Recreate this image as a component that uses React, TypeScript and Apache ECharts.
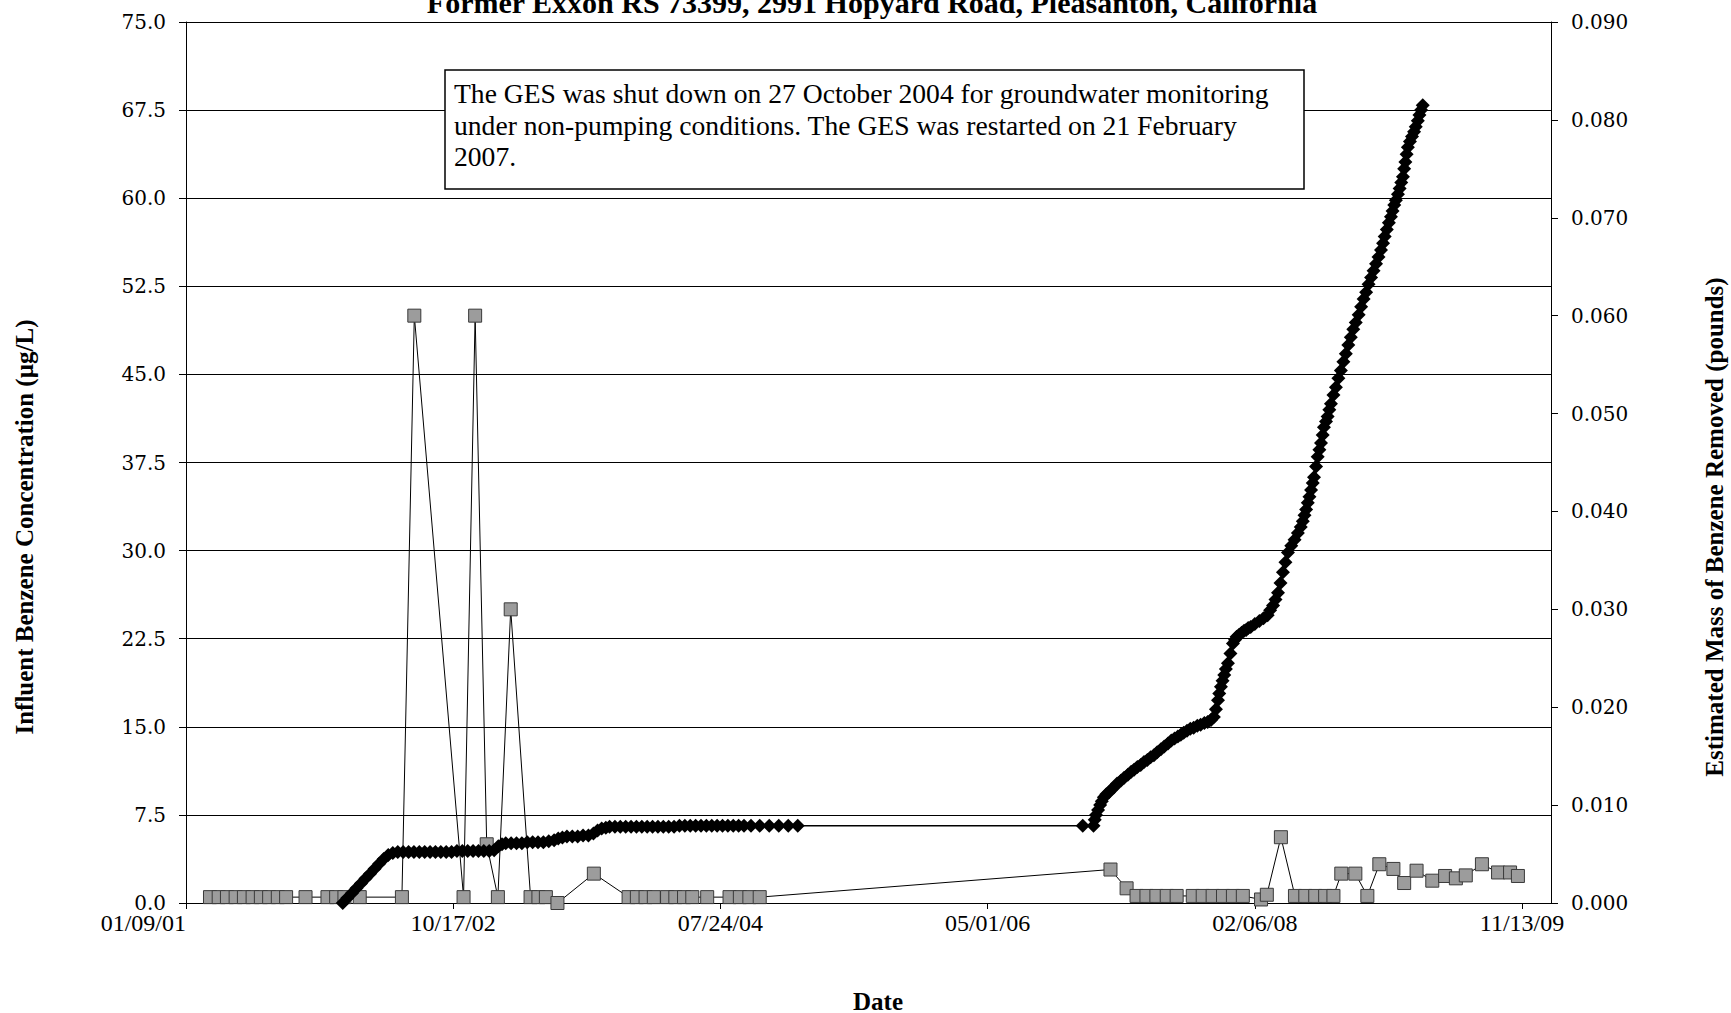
import React, { useEffect, useRef } from "react";
import * as echarts from "echarts";

// Excel date serials (days since 1899-12-30)
const xAxisMin = 36900; // 01/09/01
const xAxisMax = 40200;
const xAxisStep = 646;

const concDates = [
  36958, 36979, 36999, 37020, 37040, 37061, 37081, 37101, 37122, 37142, 37189, 37242, 37263, 37283, 37320,
  37422, 37452, 37571, 37599, 37627, 37654, 37685, 37733, 37752, 37770, 37798, 37886,
  37970, 37990, 38011, 38031, 38063, 38083, 38104, 38124, 38160, 38214, 38239, 38262, 38287,
  39135, 39174, 39198, 39222, 39246, 39271, 39295, 39334, 39358, 39382, 39407, 39431, 39455,
  39499, 39513, 39547, 39581, 39606, 39630, 39654, 39674, 39693, 39727, 39756, 39785, 39819,
  39845, 39875, 39913, 39944, 39970, 39994, 40033, 40072, 40101, 40120,
];
const concValues = [
  0.5, 0.5, 0.5, 0.5, 0.5, 0.5, 0.5, 0.5, 0.5, 0.5, 0.5, 0.5, 0.5, 0.5, 0.5,
  0.5, 50.0, 0.5, 50.0, 5.0, 0.5, 25.0, 0.5, 0.5, 0.5, 0.0, 2.5,
  0.5, 0.5, 0.5, 0.5, 0.5, 0.5, 0.5, 0.5, 0.5, 0.5, 0.5, 0.5, 0.5,
  2.85, 1.25, 0.6, 0.6, 0.6, 0.6, 0.6, 0.6, 0.6, 0.6, 0.6, 0.6, 0.6,
  0.3, 0.7, 5.6, 0.6, 0.6, 0.6, 0.6, 0.6, 2.5, 2.5, 0.6, 3.3, 2.9,
  1.7, 2.75, 1.9, 2.3, 2.1, 2.35, 3.3, 2.6, 2.6, 2.3,
];

const massDates = [
  37279, 37290, 37301, 37312, 37323, 37334, 37345, 37356, 37367, 37378, 37389, 37400,
  37412, 37425, 37438, 37451, 37464, 37477, 37490, 37503, 37516, 37529, 37542, 37555, 37568, 37581, 37594, 37607, 37620, 37633,
  37645, 37655, 37664, 37673, 37686, 37699, 37712, 37725, 37738, 37751, 37764, 37777,
  37790, 37800, 37810, 37821, 37834, 37847, 37860, 37873,
  37885, 37895, 37905, 37915, 37924,
  37937, 37950, 37963, 37976, 37989, 38002, 38015, 38028, 38041, 38054, 38067, 38080, 38093,
  38106, 38119, 38132, 38145, 38158, 38171, 38184, 38197, 38210, 38223, 38236, 38249,
  38266, 38287, 38310, 38333, 38356, 38379,
  39068, 39094, 39097, 39100, 39105, 39110, 39114, 39119, 39125, 39131, 39137, 39143, 39151, 39160, 39168, 39177,
  39185, 39192, 39200, 39208, 39216, 39224, 39232, 39240, 39248, 39257, 39265, 39274, 39282, 39290, 39298, 39305,
  39312, 39320, 39328, 39336, 39345, 39353, 39362, 39370, 39378, 39385, 39390, 39395, 39398, 39402, 39406, 39410,
  39414, 39419, 39425, 39431, 39436, 39440, 39446, 39452, 39458, 39463, 39468, 39474, 39484, 39495, 39505, 39515,
  39521, 39528, 39534, 39540, 39546, 39552, 39558, 39564, 39572, 39580, 39588, 39595, 39600, 39604, 39608, 39612,
  39616, 39620, 39624, 39627, 39632, 39636, 39640, 39644, 39648, 39651, 39656, 39660, 39664, 39668, 39674, 39680,
  39686, 39692, 39698, 39704, 39710, 39716, 39722, 39728, 39735, 39741, 39747, 39753, 39759, 39765, 39771, 39777,
  39783, 39789, 39794, 39798, 39803, 39808, 39813, 39817, 39821, 39825, 39830, 39834, 39838, 39842, 39845, 39848,
  39851, 39854, 39859, 39864, 39869, 39873, 39878, 39882, 39886, 39890,
];
const massValues = [
  0.0, 0.0005, 0.001, 0.0015, 0.002, 0.0025, 0.003, 0.0035, 0.004, 0.0045, 0.0049, 0.0051,
  0.0052, 0.0052, 0.0052, 0.0052, 0.0052, 0.0052, 0.0052, 0.0052, 0.0052, 0.0052, 0.0052, 0.0053, 0.0053, 0.0053, 0.0053, 0.0053, 0.0053, 0.0053,
  0.0054, 0.0058, 0.006, 0.0061, 0.0061, 0.0061, 0.0061, 0.0062, 0.0062, 0.0062, 0.0062, 0.0063,
  0.0064, 0.0066, 0.0067, 0.0068, 0.0068, 0.0068, 0.0069, 0.0069,
  0.0071, 0.0074, 0.0076, 0.0077, 0.0078,
  0.0078, 0.0078, 0.0078, 0.0078, 0.0078, 0.0078, 0.0078, 0.0078, 0.0078, 0.0078, 0.0078, 0.0078, 0.0079,
  0.0079, 0.0079, 0.0079, 0.0079, 0.0079, 0.0079, 0.0079, 0.0079, 0.0079, 0.0079, 0.0079, 0.0079,
  0.0079, 0.0079, 0.0079, 0.0079, 0.0079, 0.0079,
  0.0079, 0.0079, 0.0085, 0.009, 0.0095, 0.01, 0.0104, 0.0108, 0.0111, 0.0113, 0.0116, 0.0118, 0.0122, 0.0125, 0.0128, 0.0131,
  0.0134, 0.0136, 0.0139, 0.0141, 0.0144, 0.0146, 0.0149, 0.0151, 0.0154, 0.0157, 0.016, 0.0163, 0.0166, 0.0168, 0.017, 0.0172,
  0.0174, 0.0176, 0.0178, 0.0179, 0.0181, 0.0182, 0.0184, 0.0185, 0.0187, 0.019, 0.0198, 0.0207, 0.0214, 0.0221, 0.0227, 0.0233,
  0.0239, 0.0245, 0.0255, 0.0265, 0.0269, 0.0272, 0.0274, 0.0276, 0.0278, 0.0279, 0.0281, 0.0282, 0.0285, 0.0288, 0.0291, 0.0294,
  0.0299, 0.0304, 0.031, 0.0317, 0.0327, 0.0338, 0.0348, 0.0358, 0.0365, 0.0371, 0.0378, 0.0384, 0.039, 0.0396, 0.0402, 0.0409,
  0.0415, 0.0422, 0.0429, 0.0435, 0.0446, 0.0456, 0.0463, 0.047, 0.0478, 0.0486, 0.0492, 0.0497, 0.0504, 0.051, 0.0519, 0.0527,
  0.0536, 0.0544, 0.0553, 0.0561, 0.057, 0.0578, 0.0586, 0.0593, 0.0601, 0.0609, 0.0617, 0.0624, 0.0632, 0.0639, 0.0646, 0.0653,
  0.066, 0.0667, 0.0674, 0.0681, 0.0688, 0.0695, 0.0701, 0.0707, 0.0713, 0.0718, 0.0724, 0.073, 0.0736, 0.0742, 0.075, 0.0757,
  0.0765, 0.0772, 0.0778, 0.0783, 0.0788, 0.0793, 0.0799, 0.0805, 0.081, 0.0815,
];

const titleText = "Former Exxon RS 73399, 2991 Hopyard Road, Pleasanton, California";
const noteText =
  "The GES was shut down on 27 October 2004 for groundwater monitoring\nunder non-pumping conditions. The GES was restarted on 21 February\n2007.";
const leftAxisTitle = "Influent Benzene Concentration (\u00b5g/L)";
const rightAxisTitle = "Estimated Mass of Benzene Removed (pounds)";
const xAxisTitle = "Date";

const SERIF = '"Liberation Serif", "Times New Roman", serif';
const WIDE_SERIF = '"DejaVu Serif", serif';

function serialToLabel(v: number): string {
  const d = new Date(Date.UTC(1899, 11, 30) + Math.round(v) * 86400000);
  const mm = String(d.getUTCMonth() + 1).padStart(2, "0");
  const dd = String(d.getUTCDate()).padStart(2, "0");
  const yy = String(d.getUTCFullYear() % 100).padStart(2, "0");
  return `${mm}/${dd}/${yy}`;
}

export default function App() {
  const ref = useRef<HTMLDivElement>(null);
  useEffect(() => {
    if (!ref.current) return;
    const chart = echarts.init(ref.current, null, { renderer: "svg" });
    const concData = concDates.map((d, i) => [d, concValues[i]]);
    const massData = massDates.map((d, i) => [d, massValues[i]]);
    chart.setOption({
      animation: false,
      backgroundColor: "#ffffff",
      grid: { left: 186, right: 180, top: 22, bottom: 110, containLabel: false },
      xAxis: {
        type: "value",
        min: xAxisMin,
        max: xAxisMax,
        interval: xAxisStep,
        axisLine: { show: true, onZero: false, lineStyle: { color: "#000", width: 1 } },
        axisTick: { show: true, length: 6, lineStyle: { color: "#000" } },
        splitLine: { show: false },
        axisLabel: {
          fontFamily: SERIF,
          fontSize: 24,
          color: "#000",
          margin: 8,
          showMaxLabel: false,
          alignMinLabel: "right",
          formatter: (v: number) => {
            const k = (v - xAxisMin) / xAxisStep;
            return Math.abs(k - Math.round(k)) < 1e-6 ? serialToLabel(v) : "";
          },
        },
      },
      yAxis: [
        {
          type: "value",
          min: 0,
          max: 75,
          interval: 7.5,
          position: "left",
          axisLine: { show: true, lineStyle: { color: "#000", width: 1 } },
          axisTick: { show: true, length: 7, lineStyle: { color: "#000" } },
          splitLine: { show: true, lineStyle: { color: "#000", width: 1 } },
          axisLabel: {
            fontFamily: WIDE_SERIF,
            fontSize: 20,
            color: "#000",
            margin: 20,
            formatter: (v: number) => v.toFixed(1),
          },
        },
        {
          type: "value",
          min: 0,
          max: 0.09,
          interval: 0.01,
          position: "right",
          axisLine: { show: true, lineStyle: { color: "#000", width: 1 } },
          axisTick: { show: true, length: 7, lineStyle: { color: "#000" } },
          splitLine: { show: false },
          axisLabel: {
            fontFamily: WIDE_SERIF,
            fontSize: 20,
            color: "#000",
            margin: 20,
            formatter: (v: number) => v.toFixed(3),
          },
        },
      ],
      series: [
        {
          name: "Influent Benzene Concentration",
          type: "line",
          yAxisIndex: 0,
          data: concData,
          symbol: "rect",
          symbolSize: 13,
          lineStyle: { color: "#000", width: 1 },
          itemStyle: { color: "#9c9c9c", borderColor: "#3a3a3a", borderWidth: 1 },
          z: 3,
        },
        {
          name: "Estimated Mass of Benzene Removed",
          type: "line",
          yAxisIndex: 1,
          data: massData,
          symbol: "diamond",
          symbolSize: 14,
          lineStyle: { color: "#000", width: 1.5 },
          itemStyle: { color: "#000", borderColor: "#000", borderWidth: 0 },
          z: 4,
        },
      ],
      graphic: [
        {
          type: "text",
          x: 872,
          y: 2,
          z: 20,
          style: {
            text: titleText,
            fill: "#000",
            fontFamily: SERIF,
            fontWeight: "bold",
            fontSize: 30,
            align: "center",
            verticalAlign: "middle",
          },
        },
        {
          type: "rect",
          z: 20,
          shape: { x: 445, y: 70, width: 859, height: 119 },
          style: { fill: "#fff", stroke: "#000", lineWidth: 1.5 },
        },
        {
          type: "text",
          x: 454,
          y: 78,
          z: 21,
          style: {
            text: noteText,
            fill: "#000",
            fontFamily: SERIF,
            fontSize: 27.6,
            lineHeight: 31.5,
            align: "left",
            verticalAlign: "top",
          },
        },
        {
          type: "text",
          x: 24,
          y: 527,
          rotation: Math.PI / 2,
          z: 20,
          style: {
            text: leftAxisTitle,
            fill: "#000",
            fontFamily: SERIF,
            fontWeight: "bold",
            fontSize: 25,
            align: "center",
            verticalAlign: "middle",
          },
        },
        {
          type: "text",
          x: 1714,
          y: 527,
          rotation: Math.PI / 2,
          z: 20,
          style: {
            text: rightAxisTitle,
            fill: "#000",
            fontFamily: SERIF,
            fontWeight: "bold",
            fontSize: 25,
            align: "center",
            verticalAlign: "middle",
          },
        },
        {
          type: "text",
          x: 878,
          y: 1001,
          z: 20,
          style: {
            text: xAxisTitle,
            fill: "#000",
            fontFamily: SERIF,
            fontWeight: "bold",
            fontSize: 25,
            align: "center",
            verticalAlign: "middle",
          },
        },
      ],
    });
    return () => chart.dispose();
  }, []);
  return (
    <div
      ref={ref}
      style={{ position: "fixed", left: 0, top: 0, width: "1731px", height: "1013px", background: "#fff" }}
    />
  );
}
